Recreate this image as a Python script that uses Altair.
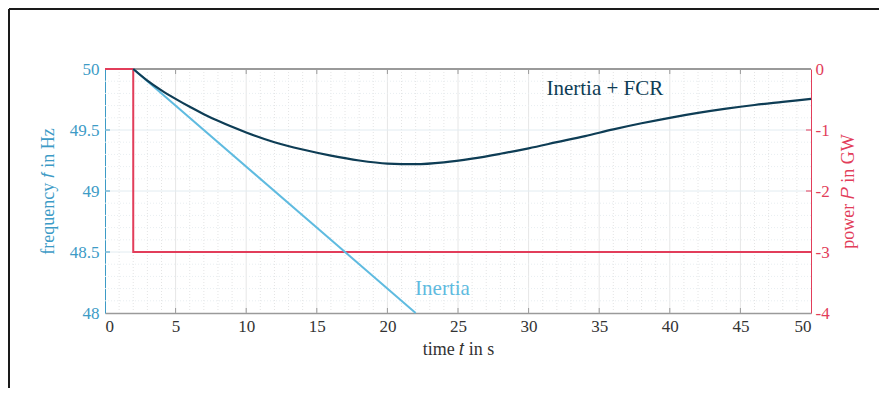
import altair as alt
import pandas as pd

# ---------------- data ----------------
t_fcr = [2, 3, 4, 5, 6, 7, 8, 10, 12, 14, 16, 18, 20, 22, 24, 26, 28, 30,
         32, 34, 36, 38, 40, 42, 44, 46, 48, 50]
f_fcr = [50.0, 49.905, 49.825, 49.755, 49.69, 49.63, 49.575, 49.48, 49.40,
         49.34, 49.29, 49.25, 49.225, 49.22, 49.235, 49.265, 49.305, 49.35,
         49.40, 49.45, 49.505, 49.555, 49.60, 49.64, 49.675, 49.705, 49.73,
         49.755]
t_inertia = [2, 22]
f_inertia = [50.0, 48.0]
t_power = [0, 2, 2, 50]
p_power = [0, 0, -3, -3]

x_ticks = [0, 5, 10, 15, 20, 25, 30, 35, 40, 45, 50]
x_inner_ticks = [5, 10, 15, 20, 25, 30, 35, 40, 45]
x_minor = [1, 2, 3, 4, 6, 7, 8, 9, 11, 12, 13, 14, 16, 17, 18, 19, 21, 22, 23, 24,
           26, 27, 28, 29, 31, 32, 33, 34, 36, 37, 38, 39, 41, 42, 43, 44, 46, 47, 48, 49]
f_ticks = [48, 48.5, 49, 49.5, 50]
f_inner_ticks = [48.5, 49, 49.5]
f_minor = [48.1, 48.2, 48.3, 48.4, 48.6, 48.7, 48.8, 48.9, 49.1, 49.2, 49.3, 49.4,
           49.6, 49.7, 49.8, 49.9]
p_ticks = [-4, -3, -2, -1, 0]
p_inner_ticks = [-3, -2, -1]

label_text = ["Inertia + FCR", "Inertia"]
label_t = [35.4, 23.9]
label_f = [49.84, 48.2]

# ---------------- styling ----------------
W, H = 706, 244
PAD_L, PAD_T, PAD_R, PAD_B = 97, 61, 68, 75
SERIF = "Liberation Serif"
BLUE = "#3d9bc6"
LIGHTBLUE = "#5fbbe0"
DARK = "#0e3d55"
RED = "#e23d5a"
GRAY = "#9a9a9a"

x_scale = alt.Scale(domain=[0, 50], nice=False, zero=False)
f_scale = alt.Scale(domain=[48, 50], nice=False, zero=False)
p_scale = alt.Scale(domain=[-4, 0], nice=False, zero=False)

x_axis = alt.Axis(values=x_ticks, ticks=False, grid=False, domainColor=GRAY,
                  domainWidth=1.5, labelColor="#333333", labelFont=SERIF,
                  labelFontSize=17, labelPadding=5, title="time 𝑡 in s",
                  titleColor="#333333", titleFont=SERIF, titleFontSize=18,
                  titleFontWeight="normal", titlePadding=6)
f_axis = alt.Axis(orient="left", values=f_ticks, labelExpr="datum.value + ''",
                  ticks=False, grid=False,
                  domainColor=BLUE, domainWidth=1, labelColor=BLUE,
                  labelFont=SERIF, labelFontSize=17, labelPadding=6,
                  title="frequency 𝑓 in Hz", titleColor=BLUE, titleFont=SERIF,
                  titleFontSize=18, titleFontWeight="normal", titlePadding=12)
p_axis = alt.Axis(orient="right", values=p_ticks, labelExpr="datum.value + ''",
                  ticks=False, grid=False, domainColor=RED, domainWidth=1,
                  labelColor=RED, labelFont=SERIF, labelFontSize=17,
                  labelPadding=4, title="power 𝑃 in GW", titleColor=RED,
                  titleFont=SERIF, titleFontSize=18, titleFontWeight="normal",
                  titleAngle=270, titleBaseline="top", titlePadding=10)

df_fcr = pd.DataFrame({"t": t_fcr, "f": f_fcr})
df_in = pd.DataFrame({"t": t_inertia, "f": f_inertia})
df_p = pd.DataFrame({"t": t_power, "p": p_power})
df_xmin = pd.DataFrame({"t": x_minor})
df_xin = pd.DataFrame({"t": x_inner_ticks})
df_fmin = pd.DataFrame({"f": f_minor})
df_fin = pd.DataFrame({"f": f_inner_ticks})
df_pin = pd.DataFrame({"p": p_inner_ticks})
df_lab = pd.DataFrame({"t": label_t, "f": label_f, "text": label_text})

X = lambda: alt.X("t:Q", scale=x_scale, axis=x_axis)
YG = lambda: alt.Y("f:Q", scale=f_scale, axis=None)   # grid layer (own scale, no axis)
YF = lambda: alt.Y("f:Q", scale=f_scale, axis=f_axis)
YP = lambda: alt.Y("p:Q", scale=p_scale, axis=p_axis)

# ---- grid layer ----
vminor = alt.Chart(df_xmin).mark_rule(color="#e4e4e4", strokeDash=[1, 2], strokeWidth=1).encode(x=X())
vmajor = alt.Chart(df_xin).mark_rule(color="#e6e6e6", strokeWidth=1).encode(x=X())
hminor = alt.Chart(df_fmin).mark_rule(color="#e8eef1", strokeDash=[1, 2], strokeWidth=1).encode(y=YG())
hmajor = alt.Chart(df_fin).mark_rule(color="#e2ecf1", strokeWidth=1).encode(y=YG())
top_line = alt.Chart(df_xin).mark_rule(color=GRAY, strokeWidth=1.5).encode(
    x=alt.value(0), x2=alt.value(W), y=alt.value(0))
top_ticks = alt.Chart(df_xin).mark_rule(color=GRAY, strokeWidth=1).encode(
    x=X(), y=alt.value(0), y2=alt.value(5))
bot_ticks = alt.Chart(df_xin).mark_rule(color=GRAY, strokeWidth=1).encode(
    x=X(), y=alt.value(H), y2=alt.value(H - 5))
left_ticks = alt.Chart(df_fin).mark_rule(color=BLUE, strokeWidth=1).encode(
    y=YG(), x=alt.value(0), x2=alt.value(5))
frame_v = alt.Chart(df_xin).mark_rule(color="#1a1a1a", strokeWidth=2).encode(
    x=alt.value(-PAD_L + 1), y=alt.value(-PAD_T + 1), y2=alt.value(H + PAD_B))
frame_h = alt.Chart(df_xin).mark_rule(color="#1a1a1a", strokeWidth=2).encode(
    y=alt.value(-PAD_T + 1), x=alt.value(-PAD_L + 1), x2=alt.value(W + PAD_R))

grid_layer = alt.layer(vminor, vmajor, hminor, hmajor, top_line, top_ticks,
                       bot_ticks, left_ticks, frame_v, frame_h)

# ---- power layer ----
power_line = alt.Chart(df_p).mark_line(color=RED, strokeWidth=2).encode(
    x=X(), y=YP(), order=alt.Order("idx:Q"),
).transform_window(idx="row_number()")
right_ticks = alt.Chart(df_pin).mark_rule(color=RED, strokeWidth=1).encode(
    y=YP(), x=alt.value(W), x2=alt.value(W - 5))
power_layer = alt.layer(power_line, right_ticks)

# ---- frequency lines layer ----
inertia = alt.Chart(df_in).mark_line(color=LIGHTBLUE, strokeWidth=2).encode(x=X(), y=YF())
fcr = alt.Chart(df_fcr).mark_line(color=DARK, strokeWidth=2.2, interpolate="monotone").encode(
    x=X(), y=YF())
labels = alt.Chart(df_lab).mark_text(font=SERIF, fontSize=21, align="center",
                                     baseline="middle").encode(
    x=X(), y=YF(), text="text:N",
    color=alt.Color("text:N", scale=alt.Scale(domain=label_text, range=[DARK, LIGHTBLUE]),
                    legend=None))
line_layer = alt.layer(inertia, fcr, labels)

chart = alt.layer(grid_layer, power_layer, line_layer).resolve_scale(
    y="independent", color="independent"
).properties(
    width=W, height=H, autosize="none",
    padding={"left": PAD_L, "top": PAD_T, "right": PAD_R, "bottom": PAD_B},
    background="white",
).configure_view(stroke=None)

chart.save("out.html", embed_options={"renderer": "svg", "actions": False})
